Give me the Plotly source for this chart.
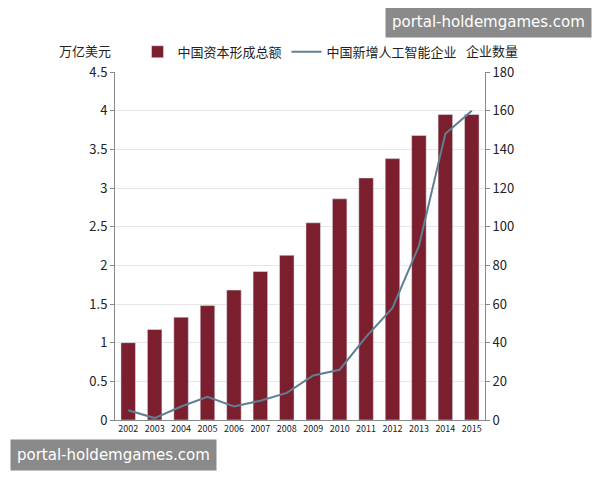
import plotly.graph_objects as go

years = [str(y) for y in range(2002, 2016)]
capital = [1.0, 1.17, 1.33, 1.48, 1.68, 1.92, 2.13, 2.55, 2.86, 3.13, 3.38, 3.68, 3.95, 3.95]
ai_firms = [5, 1, 7, 12, 7, 10, 14, 23, 26, 43, 58, 90, 148, 160]

font = "Noto Sans CJK SC"

fig = go.Figure()
fig.add_trace(go.Bar(x=years, y=capital, name="中国资本形成总额",
                     marker=dict(color="#7b1f2e"), width=0.55))
fig.add_trace(go.Scatter(x=years, y=ai_firms, name="中国新增人工智能企业",
                         mode="lines", line=dict(color="#5f7f92", width=2),
                         yaxis="y2"))

fig.update_layout(
    width=600, height=480,
    plot_bgcolor="white", paper_bgcolor="white",
    font=dict(family=font, size=13, color="#222"),
    margin=dict(l=107, r=123, t=64, b=68, autoexpand=False),
    bargap=0.4,
    showlegend=True,
    legend=dict(orientation="h", x=0.5, xanchor="center", y=1.015, yanchor="bottom",
                font=dict(size=13), itemwidth=30, tracegroupgap=0),
    xaxis=dict(showline=True, linecolor="#888", tickfont=dict(size=9),
               ticks="", showgrid=False),
    yaxis=dict(range=[0, 4.5], dtick=0.5, showgrid=True, gridcolor="#e6e6e6",
               showline=True, linecolor="#888", ticks="outside", ticklen=4, tickcolor="#888"),
    yaxis2=dict(range=[0, 180], dtick=20, overlaying="y", side="right",
                showgrid=False, showline=True, linecolor="#888",
                ticks="outside", ticklen=4, tickcolor="#888"),
    annotations=[
        dict(text="万亿美元", xref="paper", yref="paper", x=-0.08, y=1.03,
             xanchor="center", yanchor="bottom", showarrow=False, font=dict(size=13)),
        dict(text="企业数量", xref="paper", yref="paper", x=1.02, y=1.03,
             xanchor="center", yanchor="bottom", showarrow=False, font=dict(size=13)),
        dict(text="portal-holdemgames.com", xref="paper", yref="paper", x=1.29, y=1.19,
             xanchor="right", yanchor="top", showarrow=False, bgcolor="#8a8a8a",
             font=dict(size=15, color="white", family="DejaVu Sans"), borderpad=6),
        dict(text="portal-holdemgames.com", xref="paper", yref="paper", x=-0.284, y=-0.055,
             xanchor="left", yanchor="top", showarrow=False, bgcolor="#8a8a8a",
             font=dict(size=15, color="white", family="DejaVu Sans"), borderpad=6),
    ],
)

fig.write_html("out.html")
